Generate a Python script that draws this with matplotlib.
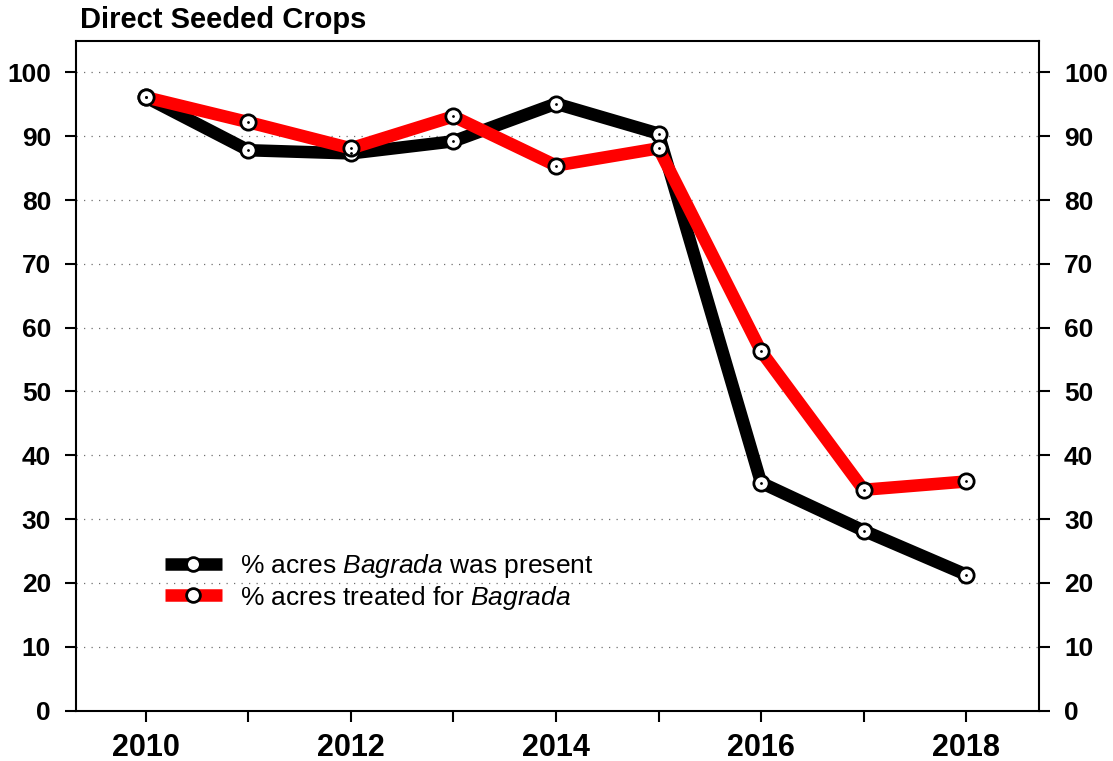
import matplotlib.pyplot as plt
import numpy as np

plt.rcParams['font.family'] = ['Liberation Sans', 'DejaVu Sans']
plt.rcParams['mathtext.fontset'] = 'custom'
plt.rcParams['mathtext.rm'] = 'Liberation Sans'
plt.rcParams['mathtext.it'] = 'Liberation Sans:italic'

years = [2010, 2011, 2012, 2013, 2014, 2015, 2016, 2017, 2018]
present = [96.1, 87.8, 87.3, 89.2, 95.1, 90.4, 35.7, 28.2, 21.3]
treated = [96.1, 92.2, 88.1, 93.1, 85.4, 88.1, 56.3, 34.6, 35.9]

fig = plt.figure(figsize=(11.13, 7.61), dpi=100)
ax = fig.add_axes([0.0683, 0.0662, 0.8652, 0.8798])

# dotted grid
for yv in range(10, 101, 10):
    ax.axhline(yv, color='#707070', linestyle=(0, (1, 5)), linewidth=0.9, zorder=0)

lw = 9
ms = 11
l1, = ax.plot(years, present, color='black', linewidth=lw, solid_capstyle='butt',
              marker='o', markersize=ms, markerfacecolor='white',
              markeredgecolor='black', markeredgewidth=2, zorder=3)
l2, = ax.plot(years, treated, color='#ff0000', linewidth=lw, solid_capstyle='butt',
              marker='o', markersize=ms, markerfacecolor='white',
              markeredgecolor='black', markeredgewidth=2, zorder=4)
# small centre dots
ax.plot(years, present, linestyle='none', marker='.', markersize=2, color='black', zorder=5)
ax.plot(years, treated, linestyle='none', marker='.', markersize=2, color='black', zorder=5)

ax.set_xlim(2009.32, 2018.71)
ax.set_ylim(0, 104.9)
ax.set_xticks([2010, 2012, 2014, 2016, 2018])
ax.set_xticks(years, minor=True)
ax.set_yticks(np.arange(0, 101, 10))
ax.tick_params(axis='x', which='both', direction='out', length=8, width=1.5,
               labelsize=22, pad=8)
ax.tick_params(axis='y', direction='out', length=8, width=1.5, labelsize=19, pad=10,
               right=True, labelright=True)
for lab in ax.get_xticklabels() + ax.get_yticklabels():
    lab.set_fontweight('bold')
for t in ax.yaxis.get_major_ticks():
    t.label2.set_fontweight('bold')
for sp in ax.spines.values():
    sp.set_linewidth(1.5)

fig.text(0.0719, 0.9737, 'Direct Seeded Crops', fontsize=21, fontweight='bold',
         ha='left', va='center')

ax.legend([l1, l2],
          ['% acres $\\mathit{Bagrada}$ was present', '% acres treated for $\\mathit{Bagrada}$'],
          loc='center left', bbox_to_anchor=(0.0924, 0.192), frameon=False,
          borderaxespad=0, borderpad=0,
          fontsize=19, handlelength=2.15, handletextpad=0.7, labelspacing=0.12,
          markerscale=0.9)

fig.savefig('out.png', dpi=100)
